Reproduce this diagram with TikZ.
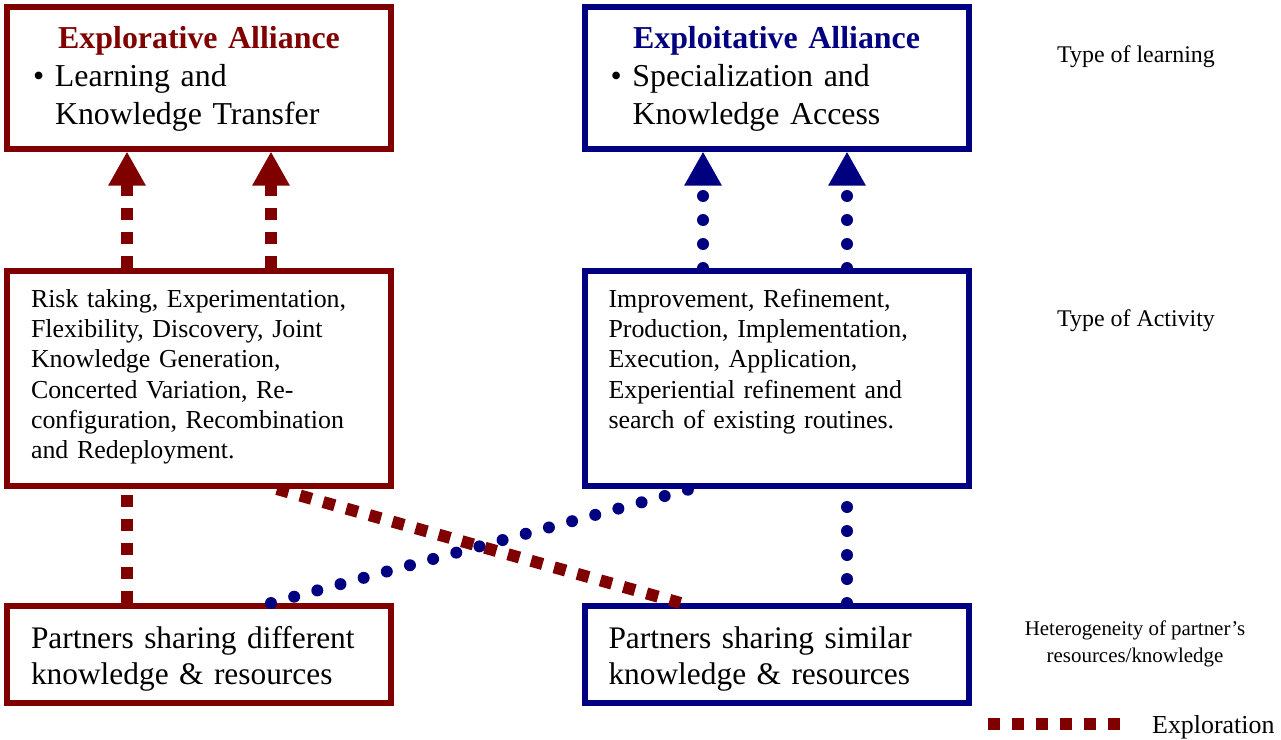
\documentclass[tikz,border=0pt]{standalone}
\usepackage{fontspec}
\setmainfont{Liberation Serif}
\usepackage{tikz}
\usetikzlibrary{arrows.meta,shapes}

\definecolor{exploreRed}{RGB}{128,0,0}
\definecolor{exploitBlue}{RGB}{0,0,128}

\begin{document}
\begin{tikzpicture}[
  redbox/.style={rectangle,draw=exploreRed,line width=6bp,fill=white,inner sep=0pt,minimum width=384bp,text width=336bp},
  bluebox/.style={redbox,draw=exploitBlue},
  bigtext/.style={font=\fontsize{32}{38.5}\selectfont},
  midtext/.style={font=\fontsize{26}{30.5}\selectfont},
  explore/.style={exploreRed,line width=12bp,dash pattern=on 12bp off 12bp},
  exploit/.style={exploitBlue,line width=12bp,line cap=round,dash pattern=on 0bp off 24bp},
  bigtip/.style={-{Triangle[length=34bp,width=35bp]}}
]
\useasboundingbox (0bp,0bp) rectangle (1281bp,-740bp);

\node (E1) at (199bp,-77.5bp)[redbox,bigtext,minimum height=142bp,text height=22bp,text depth=81bp] {{\centering\textcolor{exploreRed}{\bfseries Explorative Alliance}\par}\raggedright\makebox[24bp][l]{\hspace*{2bp}\textbullet}Learning and\\\hspace*{24bp}Knowledge Transfer};
\node (X1) at (776.5bp,-77.5bp)[bluebox,bigtext,minimum height=142bp,text height=22bp,text depth=81bp] {{\centering\textcolor{exploitBlue}{\bfseries Exploitative Alliance}\par}\raggedright\makebox[24bp][l]{\hspace*{2bp}\textbullet}Specialization and\\\hspace*{24bp}Knowledge Access};
\node (E2) at (199bp,-378.5bp)[redbox,midtext,minimum height=215bp,text height=18bp,text depth=161bp] {\raggedright Risk taking, Experimentation,\\Flexibility, Discovery, Joint\\Knowledge Generation,\\Concerted Variation, Re-\\configuration, Recombination\\and Redeployment.};
\node (X2) at (776.5bp,-378.5bp)[bluebox,midtext,minimum height=215bp,text height=18bp,text depth=161bp] {\raggedright Improvement, Refinement,\\Production, Implementation,\\Execution, Application,\\Experiential refinement and\\search of existing routines.};
\node (E3) at (199bp,-654.5bp)[redbox,font=\fontsize{31.5}{36.5}\selectfont,minimum height=97bp,text height=22bp,text depth=35bp] {\raggedright Partners sharing different\\knowledge \& resources};
\node (X3) at (776.5bp,-654.5bp)[bluebox,font=\fontsize{31.5}{36.5}\selectfont,minimum height=97bp,text height=22bp,text depth=35bp] {\raggedright Partners sharing similar\\knowledge \& resources};

\node (learnLbl) at (1136bp,-62bp)[anchor=base,font=\fontsize{24}{28}\selectfont] {Type of learning};
\node (actLbl) at (1136bp,-326bp)[anchor=base,font=\fontsize{24}{28}\selectfont] {Type of Activity};
\node (hetLbl) at (1135bp,-643.5bp)[align=center,font=\fontsize{21}{27}\selectfont] {Heterogeneity of partner's\\resources/knowledge};

\node (legExpl) at (1152bp,-733bp)[anchor=base west,inner sep=0pt,midtext] {Exploration};
\coordinate (legA) at (988bp,-724bp);
\coordinate (legB) at (1120bp,-724bp);

\draw [explore,bigtip] ([xshift=-72bp]E2.north) to ([xshift=-72bp]E1.south);
\draw [explore,bigtip] ([xshift=72bp]E2.north) to ([xshift=72bp]E1.south);
\draw [exploit,bigtip] ([xshift=-73.5bp]X2.north) to ([xshift=-73.5bp]X1.south);
\draw [exploit,bigtip] ([xshift=70.5bp]X2.north) to ([xshift=70.5bp]X1.south);
\draw [explore] ([xshift=-72bp]E3.north) to ([xshift=-72bp]E2.south);
\draw [explore] ([xshift=78bp]E2.south) to ([xshift=-96bp]X3.north);
\draw [exploit] ([xshift=72bp]E3.north) to ([xshift=-86bp]X2.south);
\draw [exploit] ([xshift=70.5bp]X3.north) to ([xshift=70.5bp]X2.south);
\draw [explore] (legA) to (legB);
\end{tikzpicture}
\end{document}
